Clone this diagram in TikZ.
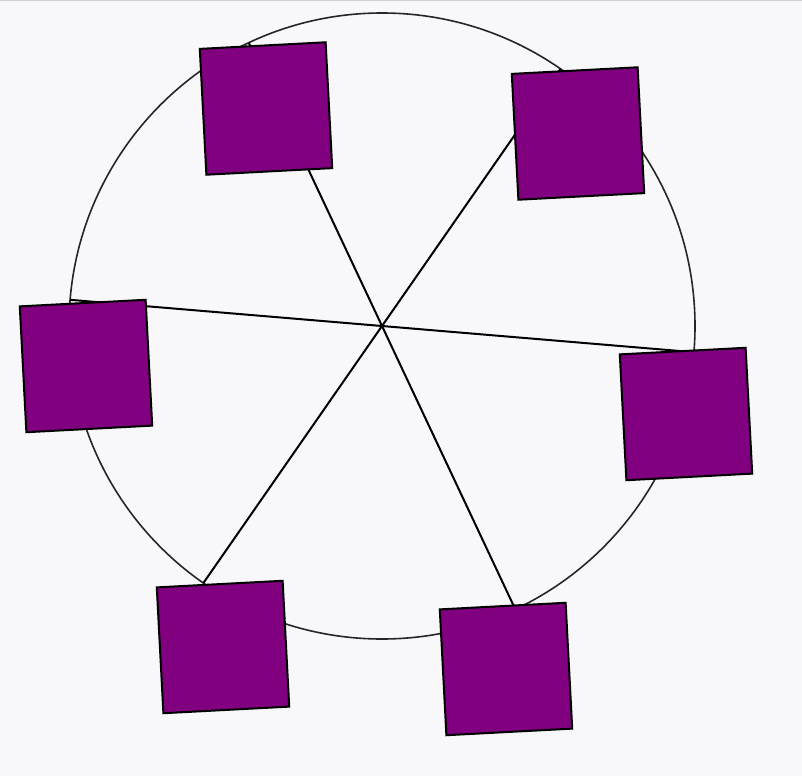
\documentclass[tikz,border=0pt]{standalone}
\usetikzlibrary{calc}
\definecolor{bg}{HTML}{F8F8FB}
\definecolor{sq}{HTML}{800080}
\tikzset{
  seat/.style={draw=black, line width=2pt, fill=sq, minimum size=126pt, inner sep=0pt, rotate=3},
  spoke/.style={draw=black, line width=2pt},
  rim/.style={draw=black!85, line width=1.6pt}
}
\begin{document}
\begin{tikzpicture}[x=1pt,y=-1pt]
\fill[bg] (0,0) rectangle (802,776);
\useasboundingbox (0,0) rectangle (802,776);
\draw[black!18, line width=1pt] (0,1) -- (802,1);
\coordinate (c) at (382,326);
\draw[rim] (c) circle (313);
\foreach \i/\a in {1/-115.2,2/-55.2,3/4.8,4/64.8,5/124.8,6/184.8}{
  \coordinate (p\i) at ($(c)+(\a:313)$);
}
\draw[spoke] (p1) -- (p4);
\draw[spoke] (p2) -- (p5);
\draw[spoke] (p3) -- (p6);
\node[seat] (s1) at (266,108.5) {};
\node[seat] (s2) at (578,133.5) {};
\node[seat] (s3) at (686,414) {};
\node[seat] (s4) at (506,669) {};
\node[seat] (s5) at (223,647) {};
\node[seat] (s6) at (86,366) {};
\end{tikzpicture}
\end{document}
